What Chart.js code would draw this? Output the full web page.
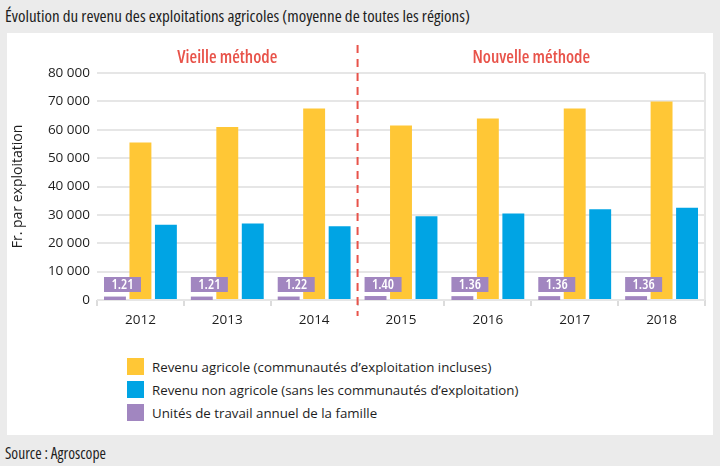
<!DOCTYPE html>
<html>
<head>
<meta charset="utf-8">
<script src="https://cdn.jsdelivr.net/npm/chart.js@4/dist/chart.umd.min.js"></script>
<style>
  html, body { margin: 0; padding: 0; }
  body {
    width: 720px; height: 466px; position: relative; overflow: hidden;
    background: #ebebeb; color: #1e1e1e;
    font-family: "Open Sans", sans-serif;
  }
  .title { position: absolute; left: 5px; top: 4px; font-size: 17px; font-weight: 500; font-stretch: 75%; line-height: 1.362; white-space: nowrap; }
  .panel { position: absolute; left: 7px; top: 33px; width: 706px; height: 402px; background: #fff; }
  .chart-box { position: absolute; left: 0; top: 0; width: 706px; height: 310px; }
  .legend { position: absolute; left: 120px; top: 322px; font-size: 13.3px; }
  .legend div { height: 23px; display: flex; align-items: center; white-space: nowrap; }
  .legend span.sw { width: 17px; height: 17px; margin-right: 8px; display: inline-block; }
  .source { position: absolute; left: 5px; top: 443px; font-size: 15.5px; font-stretch: 75%; line-height: 1.362; }
</style>
</head>
<body>
<div class="title">Évolution du revenu des exploitations agricoles (moyenne de toutes les régions)</div>
<div class="panel">
  <div class="chart-box"><canvas id="chart"></canvas></div>
  <div class="legend" id="legend"></div>
</div>
<div class="source">Source : Agroscope</div>

<script>
// données
const years = ["2012", "2013", "2014", "2015", "2016", "2017", "2018"];
const revenuAgricole = [55500, 61000, 67500, 61500, 64000, 67500, 70000];
const revenuNonAgricole = [26500, 27000, 26000, 29500, 30500, 32000, 32500];
const unitesTravail = [1.21, 1.21, 1.22, 1.40, 1.36, 1.36, 1.36];
const yTicks = [0, 10000, 20000, 30000, 40000, 50000, 60000, 70000, 80000];
const sections = [
  { label: "Vieille méthode", from: 0, to: 2 },
  { label: "Nouvelle méthode", from: 3, to: 6 }
];

const FONT = '"Open Sans", sans-serif';
const PURPLE = "#a186c0";
const YELLOW = "#ffc736";
const BLUE = "#00a4e4";
const RED = "#e8534a";
const TEXT = "#1e1e1e";

const fmt = v => String(v).replace(/\B(?=(\d{3})+(?!\d))/g, " ");

// étiquettes violettes + ligne rouge + titres des méthodes
const extras = {
  id: "extras",
  afterDatasetsDraw(chart) {
    const ctx = chart.ctx;
    const x = chart.scales.x;
    const y = chart.scales.y;
    const area = chart.chartArea;
    const zeroY = y.getPixelForValue(0);

    // bordure droite
    ctx.save();
    ctx.strokeStyle = "#e6e6e6";
    ctx.lineWidth = 2;
    ctx.beginPath();
    ctx.moveTo(area.right, area.top);
    ctx.lineTo(area.right, area.bottom);
    ctx.stroke();

    // unités de travail
    const meta = chart.getDatasetMeta(0);
    ctx.font = "600 semi-condensed 14px " + FONT;
    ctx.textAlign = "center";
    ctx.textBaseline = "middle";
    meta.data.forEach((bar, i) => {
      const left = bar.x - bar.width / 2;
      ctx.fillStyle = PURPLE;
      ctx.fillRect(left, zeroY - 23, 37, 15);
      ctx.fillStyle = "#fff";
      ctx.fillText(unitesTravail[i].toFixed(2), left + 18.5, zeroY - 15);
    });

    // séparation des méthodes
    const sepX = (x.getPixelForValue(2) + x.getPixelForValue(3)) / 2;
    ctx.strokeStyle = RED;
    ctx.lineWidth = 2;
    ctx.setLineDash([8, 6]);
    ctx.beginPath();
    ctx.moveTo(sepX, 12);
    ctx.lineTo(sepX, area.bottom + 16);
    ctx.stroke();
    ctx.setLineDash([]);

    ctx.fillStyle = RED;
    ctx.font = "600 condensed 17.5px " + FONT;
    sections.forEach(s => {
      const cx = (x.getPixelForValue(s.from) + x.getPixelForValue(s.to)) / 2;
      ctx.fillText(s.label, cx, 25);
    });
    ctx.restore();
  }
};

const chart = new Chart(document.getElementById("chart"), {
  type: "bar",
  data: {
    labels: years,
    datasets: [
      { label: "Unités de travail annuel de la famille", data: unitesTravail, backgroundColor: PURPLE, yAxisID: "y1" },
      { label: "Revenu agricole (communautés d’exploitation incluses)", data: revenuAgricole, backgroundColor: YELLOW, yAxisID: "y" },
      { label: "Revenu non agricole (sans les communautés d’exploitation)", data: revenuNonAgricole, backgroundColor: BLUE, yAxisID: "y" }
    ]
  },
  options: {
    responsive: true,
    maintainAspectRatio: false,
    animation: false,
    categoryPercentage: 0.88,
    barPercentage: 0.86,
    layout: { padding: { top: 40, right: 8, left: 0, bottom: 0 } },
    plugins: { legend: { display: false }, tooltip: { enabled: false } },
    scales: {
      x: {
        grid: { drawOnChartArea: false, color: "#dcdcdc", lineWidth: 2, tickLength: 6 },
        border: { display: false },
        ticks: { color: TEXT, font: { family: FONT, size: 13.5 }, padding: 6 },
        afterFit(scale) { scale.height = 43; }
      },
      y: {
        min: 0,
        max: 80000,
        afterBuildTicks(scale) { scale.ticks = yTicks.map(v => ({ value: v })); },
        grid: { color: "#e6e6e6", lineWidth: 2, drawTicks: false },
        border: { display: false },
        ticks: { color: TEXT, font: { family: FONT, size: 13.5 }, padding: 7, callback: v => fmt(v) },
        title: { display: true, text: "Fr. par exploitation", color: TEXT, font: { family: FONT, size: 14 }, padding: { top: 3, bottom: 0 } },
        afterFit(scale) { scale.width = 90; }
      },
      y1: { display: false, min: 0, max: 80 }
    }
  },
  plugins: [extras]
});

// légende verticale
const legendOrder = [1, 2, 0];
document.getElementById("legend").innerHTML = legendOrder.map(i => {
  const ds = chart.data.datasets[i];
  return '<div><span class="sw" style="background:' + ds.backgroundColor + '"></span>' + ds.label + '</div>';
}).join("");
</script>
</body>
</html>
